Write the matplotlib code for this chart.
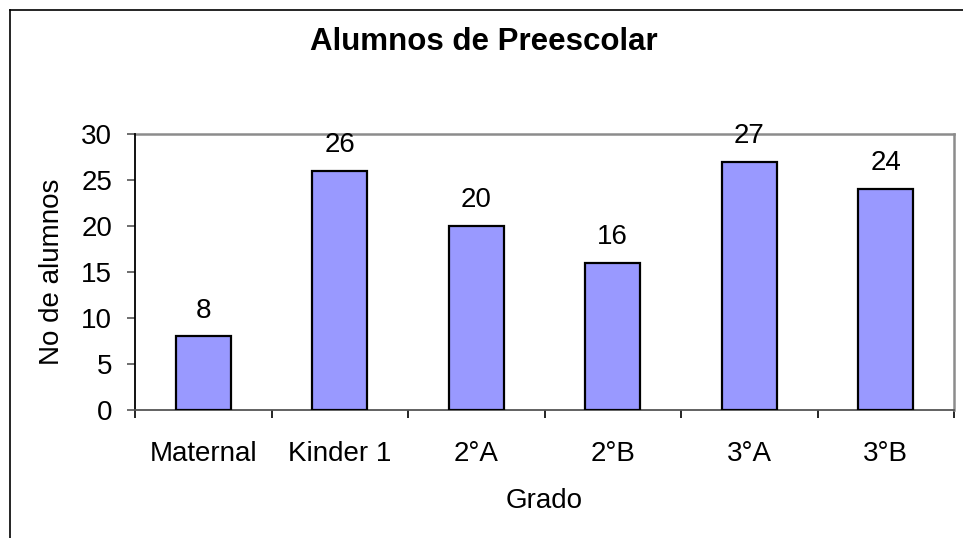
import matplotlib
matplotlib.use("Agg")
import matplotlib.pyplot as plt
from matplotlib.lines import Line2D

plt.rcParams['font.family'] = ['Liberation Sans', 'DejaVu Sans']

# datos
grados = ["Maternal", "Kinder 1", "2°A", "2°B", "3°A", "3°B"]
alumnos = [8, 26, 20, 16, 27, 24]
y_ticks = [0, 5, 10, 15, 20, 25, 30]

W, H = 963, 538
fs = 20
fig = plt.figure(figsize=(W / 100, H / 100), dpi=100)
fig.patch.set_facecolor("white")

# plot area in pixels: x 135..954, y 134..410
ax = fig.add_axes([135 / W, 1 - 410 / H, (954 - 135) / W, (410 - 134) / H])

pos = list(range(len(grados)))
ax.bar(pos, alumnos, width=0.4, color="#9999FF", edgecolor="black",
       linewidth=1.6, zorder=3)

for x, v in zip(pos, alumnos):
    ax.annotate(str(v), (x, v), xytext=(0, 13.5), textcoords="offset points",
                ha="center", va="baseline", fontsize=fs, zorder=5,
                annotation_clip=False)

ax.set_xlim(-0.5, len(grados) - 0.5)
ax.set_ylim(0, 30)
ax.set_yticks(y_ticks)

# ticks on category boundaries, labels in the middle
ax.set_xticks([i - 0.5 for i in range(len(grados) + 1)])
ax.set_xticklabels([])
ax.set_xticks(pos, minor=True)
ax.set_xticklabels(grados, minor=True)
ax.tick_params(axis="x", which="major", direction="out", length=6,
               width=1.2, color="black")
ax.tick_params(axis="x", which="minor", length=0, pad=22.5, labelsize=fs)
ax.tick_params(axis="y", direction="out", length=6, width=1.2,
               color="#555555", pad=10.5, labelsize=fs)

ax.spines["left"].set_color("black")
ax.spines["left"].set_linewidth(1.3)
ax.spines["bottom"].set_color("#555555")
ax.spines["bottom"].set_linewidth(1.3)
for s in ("top", "right"):
    ax.spines[s].set_color("#8c8c8c")
    ax.spines[s].set_linewidth(1.8)
    ax.spines[s].set_zorder(2)

ax.set_xlabel("Grado", fontsize=fs, va="baseline")
ax.xaxis.set_label_coords(0.5, -(508 - 410) / 276)
ax.set_ylabel("No de alumnos", fontsize=fs, va="center")
ax.yaxis.set_label_coords(-(135 - 52) / 819, 0.5)

fig.text(484 / W, 1 - 50 / H, "Alumnos de Preescolar", ha="center",
         va="baseline", fontsize=22.5, fontweight="bold")

# chart area border, cut by the image edges
fig.add_artist(Line2D([10 / W, 1], [1 - 10 / H, 1 - 10 / H],
                      transform=fig.transFigure, color="black", lw=1.2))
fig.add_artist(Line2D([10 / W, 10 / W], [0, 1 - 10 / H],
                      transform=fig.transFigure, color="black", lw=1.2))

fig.savefig("out.png", dpi=100)
